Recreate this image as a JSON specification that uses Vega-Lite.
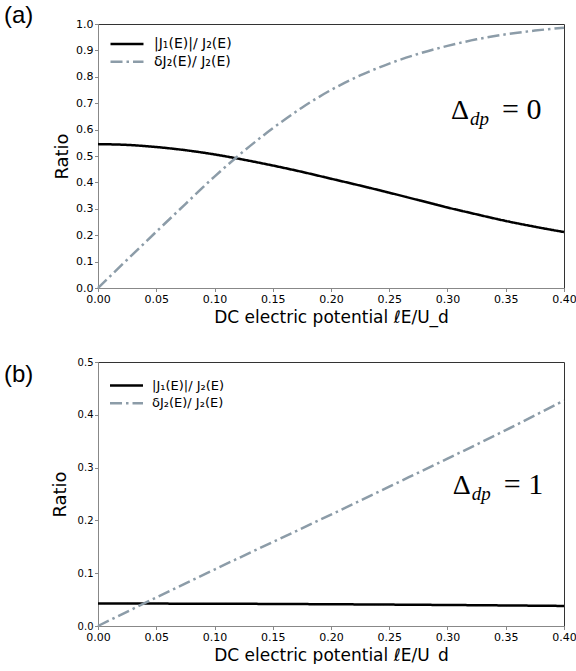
{
  "$schema": "https://vega.github.io/schema/vega-lite/v6.json",
  "padding": {"left": 3, "top": 3, "right": 0, "bottom": 0},
  "config": {
    "view": {"stroke": "#333333", "strokeWidth": 1},
    "axis": {"grid": false, "domainColor": "#888888", "tickColor": "#888888", "tickSize": 3.5, "labelFont": "DejaVu Sans", "labelColor": "#000000", "titleFont": "DejaVu Sans", "titleFontWeight": "normal", "titleColor": "#000000", "titleFontSize": 17, "labelPadding": 1.5, "labelOverlap": false, "labelFlush": false}
  },
  "datasets": {
    "curves": [
      {"panel": "a", "series": "|J₁(E)|/ J₂(E)", "E": 0.0, "v": 0.545},
      {"panel": "a", "series": "|J₁(E)|/ J₂(E)", "E": 0.025, "v": 0.542},
      {"panel": "a", "series": "|J₁(E)|/ J₂(E)", "E": 0.05, "v": 0.534},
      {"panel": "a", "series": "|J₁(E)|/ J₂(E)", "E": 0.075, "v": 0.522},
      {"panel": "a", "series": "|J₁(E)|/ J₂(E)", "E": 0.1, "v": 0.506},
      {"panel": "a", "series": "|J₁(E)|/ J₂(E)", "E": 0.125, "v": 0.486},
      {"panel": "a", "series": "|J₁(E)|/ J₂(E)", "E": 0.15, "v": 0.464},
      {"panel": "a", "series": "|J₁(E)|/ J₂(E)", "E": 0.175, "v": 0.44},
      {"panel": "a", "series": "|J₁(E)|/ J₂(E)", "E": 0.2, "v": 0.414},
      {"panel": "a", "series": "|J₁(E)|/ J₂(E)", "E": 0.225, "v": 0.388},
      {"panel": "a", "series": "|J₁(E)|/ J₂(E)", "E": 0.25, "v": 0.361},
      {"panel": "a", "series": "|J₁(E)|/ J₂(E)", "E": 0.275, "v": 0.333},
      {"panel": "a", "series": "|J₁(E)|/ J₂(E)", "E": 0.3, "v": 0.305},
      {"panel": "a", "series": "|J₁(E)|/ J₂(E)", "E": 0.325, "v": 0.279},
      {"panel": "a", "series": "|J₁(E)|/ J₂(E)", "E": 0.35, "v": 0.254},
      {"panel": "a", "series": "|J₁(E)|/ J₂(E)", "E": 0.375, "v": 0.232},
      {"panel": "a", "series": "|J₁(E)|/ J₂(E)", "E": 0.4, "v": 0.212},
      {"panel": "a", "series": "δJ₂(E)/ J₂(E)", "E": 0.0, "v": 0.0},
      {"panel": "a", "series": "δJ₂(E)/ J₂(E)", "E": 0.025, "v": 0.107},
      {"panel": "a", "series": "δJ₂(E)/ J₂(E)", "E": 0.05, "v": 0.213},
      {"panel": "a", "series": "δJ₂(E)/ J₂(E)", "E": 0.075, "v": 0.318},
      {"panel": "a", "series": "δJ₂(E)/ J₂(E)", "E": 0.1, "v": 0.422},
      {"panel": "a", "series": "δJ₂(E)/ J₂(E)", "E": 0.125, "v": 0.518},
      {"panel": "a", "series": "δJ₂(E)/ J₂(E)", "E": 0.15, "v": 0.605},
      {"panel": "a", "series": "δJ₂(E)/ J₂(E)", "E": 0.175, "v": 0.683},
      {"panel": "a", "series": "δJ₂(E)/ J₂(E)", "E": 0.2, "v": 0.75},
      {"panel": "a", "series": "δJ₂(E)/ J₂(E)", "E": 0.225, "v": 0.805},
      {"panel": "a", "series": "δJ₂(E)/ J₂(E)", "E": 0.25, "v": 0.85},
      {"panel": "a", "series": "δJ₂(E)/ J₂(E)", "E": 0.275, "v": 0.887},
      {"panel": "a", "series": "δJ₂(E)/ J₂(E)", "E": 0.3, "v": 0.917},
      {"panel": "a", "series": "δJ₂(E)/ J₂(E)", "E": 0.325, "v": 0.942},
      {"panel": "a", "series": "δJ₂(E)/ J₂(E)", "E": 0.35, "v": 0.961},
      {"panel": "a", "series": "δJ₂(E)/ J₂(E)", "E": 0.375, "v": 0.975},
      {"panel": "a", "series": "δJ₂(E)/ J₂(E)", "E": 0.4, "v": 0.986},
      {"panel": "b", "series": "|J₁(E)|/ J₂(E)", "E": 0.0, "v": 0.0425},
      {"panel": "b", "series": "|J₁(E)|/ J₂(E)", "E": 0.1, "v": 0.0422},
      {"panel": "b", "series": "|J₁(E)|/ J₂(E)", "E": 0.2, "v": 0.0412},
      {"panel": "b", "series": "|J₁(E)|/ J₂(E)", "E": 0.3, "v": 0.0398},
      {"panel": "b", "series": "|J₁(E)|/ J₂(E)", "E": 0.4, "v": 0.038},
      {"panel": "b", "series": "δJ₂(E)/ J₂(E)", "E": 0.0, "v": 0.0},
      {"panel": "b", "series": "δJ₂(E)/ J₂(E)", "E": 0.05, "v": 0.054},
      {"panel": "b", "series": "δJ₂(E)/ J₂(E)", "E": 0.1, "v": 0.107},
      {"panel": "b", "series": "δJ₂(E)/ J₂(E)", "E": 0.15, "v": 0.159},
      {"panel": "b", "series": "δJ₂(E)/ J₂(E)", "E": 0.2, "v": 0.211},
      {"panel": "b", "series": "δJ₂(E)/ J₂(E)", "E": 0.25, "v": 0.264},
      {"panel": "b", "series": "δJ₂(E)/ J₂(E)", "E": 0.3, "v": 0.317},
      {"panel": "b", "series": "δJ₂(E)/ J₂(E)", "E": 0.35, "v": 0.371},
      {"panel": "b", "series": "δJ₂(E)/ J₂(E)", "E": 0.4, "v": 0.427}
    ],
    "notes": [
      {"panel": "a", "E": 0.303, "v": 0.639, "t1": "Δ", "t2": "dp", "t3": "= 0"},
      {"panel": "b", "E": 0.3045, "v": 0.2496, "t1": "Δ", "t2": "dp", "t3": "= 1"}
    ]
  },
  "spacing": 30,
  "resolve": {"scale": {"color": "independent", "strokeDash": "independent"}, "legend": {"color": "independent", "strokeDash": "independent"}},
  "vconcat": [
    {
      "width": 466,
      "height": 264,
      "title": {"text": "(a)", "anchor": "start", "frame": "group", "dx": -94, "offset": -29, "baseline": "alphabetic", "fontSize": 24, "font": "Liberation Sans", "fontWeight": "normal", "color": "#000000"},
      "layer": [
        {
          "data": {"name": "curves"},
          "transform": [{"filter": "datum.panel === 'a'"}],
          "mark": {"type": "line", "strokeWidth": 2.5, "interpolate": "monotone"},
          "encoding": {
            "x": {"field": "E", "type": "quantitative", "scale": {"domain": [0, 0.4], "nice": false, "zero": false}, "axis": {"values": [0, 0.05, 0.1, 0.15, 0.2, 0.25, 0.3, 0.35, 0.4], "format": ".2f", "title": "DC electric potential ℓE/U_d", "labelFontSize": 11, "titlePadding": 5, "labelOverlap": false}},
            "y": {"field": "v", "type": "quantitative", "scale": {"domain": [0, 1], "nice": false}, "axis": {"values": [0, 0.1, 0.2, 0.3, 0.4, 0.5, 0.6, 0.7, 0.8, 0.9, 1.0], "tickCount": 11, "format": ".1f", "title": "Ratio", "titleFontSize": 18, "labelFontSize": 11, "titlePadding": 4, "labelOverlap": false}},
            "color": {"field": "series", "type": "nominal", "scale": {"domain": ["|J₁(E)|/ J₂(E)", "δJ₂(E)/ J₂(E)"], "range": ["#000000", "#8c9ca8"]}, "legend": {"orient": "none", "legendX": 22, "legendY": 13, "padding": 0, "title": null, "symbolType": "M-4,0L4,0", "symbolSize": 68, "symbolStrokeWidth": 2.5, "labelFont": "DejaVu Sans", "labelFontSize": 14, "labelOffset": 20, "rowPadding": 3.7, "labelColor": "#000000"}},
            "strokeDash": {"field": "series", "type": "nominal", "scale": {"domain": ["|J₁(E)|/ J₂(E)", "δJ₂(E)/ J₂(E)"], "range": [[1, 0], [12, 4, 2.5, 4]]}, "legend": {"orient": "none", "legendX": 22, "legendY": 13, "padding": 0, "title": null, "symbolType": "M-4,0L4,0", "symbolSize": 68, "symbolStrokeWidth": 2.5, "labelFont": "DejaVu Sans", "labelFontSize": 14, "labelOffset": 20, "rowPadding": 3.7, "labelColor": "#000000"}}
          }
        },
        {
          "data": {"name": "notes"},
          "transform": [{"filter": "datum.panel === 'a'"}],
          "mark": {"type": "text", "font": "Liberation Serif", "fontSize": 28, "align": "left", "baseline": "alphabetic", "color": "#000000"},
          "encoding": {"x": {"field": "E", "type": "quantitative"}, "y": {"field": "v", "type": "quantitative"}, "text": {"field": "t1"}}
        },
        {
          "data": {"name": "notes"},
          "transform": [{"filter": "datum.panel === 'a'"}],
          "mark": {"type": "text", "font": "Liberation Serif", "fontSize": 19, "fontStyle": "italic", "align": "left", "baseline": "alphabetic", "dx": 19, "dy": 6, "color": "#000000"},
          "encoding": {"x": {"field": "E", "type": "quantitative"}, "y": {"field": "v", "type": "quantitative"}, "text": {"field": "t2"}}
        },
        {
          "data": {"name": "notes"},
          "transform": [{"filter": "datum.panel === 'a'"}],
          "mark": {"type": "text", "font": "Liberation Serif", "fontSize": 30, "align": "left", "baseline": "alphabetic", "dx": 51, "color": "#000000"},
          "encoding": {"x": {"field": "E", "type": "quantitative"}, "y": {"field": "v", "type": "quantitative"}, "text": {"field": "t3"}}
        }
      ]
    },
    {
      "width": 466,
      "height": 264,
      "title": {"text": "(b)", "anchor": "start", "frame": "group", "dx": -94, "offset": -49, "baseline": "alphabetic", "fontSize": 24, "font": "Liberation Sans", "fontWeight": "normal", "color": "#000000"},
      "layer": [
        {
          "data": {"name": "curves"},
          "transform": [{"filter": "datum.panel === 'b'"}],
          "mark": {"type": "line", "strokeWidth": 2.5, "interpolate": "monotone"},
          "encoding": {
            "x": {"field": "E", "type": "quantitative", "scale": {"domain": [0, 0.4], "nice": false, "zero": false}, "axis": {"values": [0, 0.05, 0.1, 0.15, 0.2, 0.25, 0.3, 0.35, 0.4], "format": ".2f", "title": "DC electric potential ℓE/U_d", "labelFontSize": 11, "titlePadding": 5, "labelOverlap": false}},
            "y": {"field": "v", "type": "quantitative", "scale": {"domain": [0, 0.5], "nice": false}, "axis": {"values": [0, 0.1, 0.2, 0.3, 0.4, 0.5], "format": ".1f", "title": "Ratio", "titleFontSize": 18, "labelFontSize": 10, "titlePadding": 8, "labelOverlap": false}},
            "color": {"field": "series", "type": "nominal", "scale": {"domain": ["|J₁(E)|/ J₂(E)", "δJ₂(E)/ J₂(E)"], "range": ["#000000", "#8c9ca8"]}, "legend": {"orient": "none", "legendX": 22, "legendY": 17, "padding": 0, "title": null, "symbolType": "M-4,0L4,0", "symbolSize": 68, "symbolStrokeWidth": 2.5, "labelFont": "DejaVu Sans", "labelFontSize": 13, "labelOffset": 19, "rowPadding": 3.7, "labelColor": "#000000"}},
            "strokeDash": {"field": "series", "type": "nominal", "scale": {"domain": ["|J₁(E)|/ J₂(E)", "δJ₂(E)/ J₂(E)"], "range": [[1, 0], [12, 4, 2.5, 4]]}, "legend": {"orient": "none", "legendX": 22, "legendY": 17, "padding": 0, "title": null, "symbolType": "M-4,0L4,0", "symbolSize": 68, "symbolStrokeWidth": 2.5, "labelFont": "DejaVu Sans", "labelFontSize": 13, "labelOffset": 19, "rowPadding": 3.7, "labelColor": "#000000"}}
          }
        },
        {
          "data": {"name": "notes"},
          "transform": [{"filter": "datum.panel === 'b'"}],
          "mark": {"type": "text", "font": "Liberation Serif", "fontSize": 28, "align": "left", "baseline": "alphabetic", "color": "#000000"},
          "encoding": {"x": {"field": "E", "type": "quantitative"}, "y": {"field": "v", "type": "quantitative"}, "text": {"field": "t1"}}
        },
        {
          "data": {"name": "notes"},
          "transform": [{"filter": "datum.panel === 'b'"}],
          "mark": {"type": "text", "font": "Liberation Serif", "fontSize": 19, "fontStyle": "italic", "align": "left", "baseline": "alphabetic", "dx": 19, "dy": 6, "color": "#000000"},
          "encoding": {"x": {"field": "E", "type": "quantitative"}, "y": {"field": "v", "type": "quantitative"}, "text": {"field": "t2"}}
        },
        {
          "data": {"name": "notes"},
          "transform": [{"filter": "datum.panel === 'b'"}],
          "mark": {"type": "text", "font": "Liberation Serif", "fontSize": 30, "align": "left", "baseline": "alphabetic", "dx": 51, "color": "#000000"},
          "encoding": {"x": {"field": "E", "type": "quantitative"}, "y": {"field": "v", "type": "quantitative"}, "text": {"field": "t3"}}
        }
      ]
    }
  ]
}
